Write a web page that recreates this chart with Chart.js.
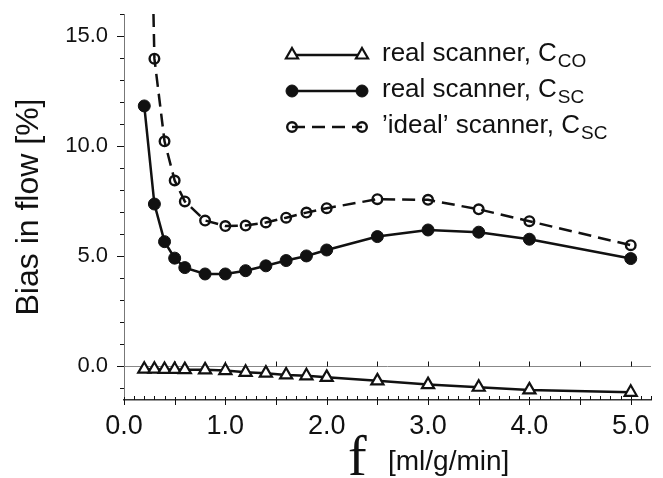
<!DOCTYPE html>
<html>
<head>
<meta charset="utf-8">
<script src="https://cdn.jsdelivr.net/npm/chart.js@4.4.1/dist/chart.umd.min.js"></script>
<style>
  html, body { margin: 0; padding: 0; background: #fff; }
  #wrap { width: 663px; height: 478px; }
</style>
</head>
<body>
<div id="wrap"><canvas id="biasChart" width="663" height="478"></canvas></div>
<script>
// flow f [ml/g/min] at which the bias was computed
const flowValues = [0.2, 0.3, 0.4, 0.5, 0.6, 0.8, 1.0, 1.2, 1.4, 1.6, 1.8, 2.0, 2.5, 3.0, 3.5, 4.0, 5.0];

// bias in flow [%]
const realCco = [-0.15, -0.15, -0.16, -0.16, -0.17, -0.18, -0.21, -0.29, -0.33, -0.41, -0.45, -0.52, -0.68, -0.85, -0.97, -1.09, -1.20];
const realCsc = [11.82, 7.36, 5.65, 4.90, 4.47, 4.18, 4.18, 4.33, 4.55, 4.79, 5.00, 5.27, 5.88, 6.18, 6.08, 5.76, 4.88];
const idealCsc = [36.0, 13.97, 10.21, 8.43, 7.48, 6.61, 6.36, 6.38, 6.52, 6.74, 6.97, 7.17, 7.58, 7.55, 7.12, 6.58, 5.49];

const seriesNames = ['real scanner, C', 'real scanner, C', '\u2019ideal\u2019 scanner, C'];
const seriesSubs = ['CO', 'SC', 'SC'];

const yTickLabels = [0, 5, 10, 15];
const xTickLabels = [0, 1, 2, 3, 4, 5];

const INK = '#111';
const SANS = '"Liberation Sans", Arial, Helvetica, sans-serif';

Chart.defaults.font.family = SANS;
Chart.defaults.color = INK;

function toPoints(ys) {
    return flowValues.map((x, i) => ({ x, y: ys[i] }));
}

// ticks of the original plot: inward minor ticks, zero line with its own ticks
const axisTicks = {
    id: 'axisTicks',
    beforeDatasetsDraw(chart) {
        const { ctx, chartArea, scales: { x, y } } = chart;
        const zeroY = Math.round(y.getPixelForValue(0)) + 0.5;
        ctx.save();
        ctx.strokeStyle = '#888';
        ctx.lineWidth = 1;
        ctx.beginPath();
        ctx.moveTo(chartArea.left, zeroY);
        ctx.lineTo(chartArea.right, zeroY);
        ctx.stroke();

        ctx.strokeStyle = INK;
        const bottom = chartArea.bottom;
        for (let i = 0; i <= 52; i++) {
            const px = Math.round(x.getPixelForValue(i / 10)) + 0.5;
            ctx.beginPath();
            if (i % 5 === 0) {
                ctx.moveTo(px, bottom - 3);
                ctx.lineTo(px, bottom + 5);
            } else {
                ctx.moveTo(px, bottom - 4);
                ctx.lineTo(px, bottom);
            }
            ctx.stroke();
            if (i % 5 === 0 && i > 0 && i <= 50) {
                ctx.beginPath();
                ctx.moveTo(px, zeroY);
                ctx.lineTo(px, zeroY - 5);
                ctx.stroke();
            }
        }
        for (let v = -1; v <= 16; v++) {
            const py = Math.round(y.getPixelForValue(v)) + 0.5;
            const len = v % 5 === 0 ? 7 : 4;
            ctx.beginPath();
            ctx.moveTo(chartArea.left - len, py);
            ctx.lineTo(chartArea.left, py);
            ctx.stroke();
        }
        ctx.restore();
    }
};

// legend drawn like the paper: line segment with a marker at both ends
const lineLegend = {
    id: 'lineLegend',
    afterDatasetsDraw(chart) {
        const { ctx } = chart;
        const x0 = 292, x1 = 362, textX = 382, rowTop = 55, rowGap = 36;
        ctx.save();
        chart.data.datasets.forEach((ds, i) => {
            const ry = rowTop + i * rowGap;
            ctx.strokeStyle = ds.borderColor;
            ctx.lineWidth = ds.borderWidth;
            ctx.setLineDash(ds.borderDash || []);
            ctx.beginPath();
            ctx.moveTo(x0, ry);
            ctx.lineTo(x1, ry);
            ctx.stroke();
            ctx.setLineDash([]);
            ctx.fillStyle = ds.pointBackgroundColor;
            ctx.strokeStyle = ds.pointBorderColor;
            ctx.lineWidth = ds.pointBorderWidth;
            const pt = { pointStyle: ds.pointStyle, radius: ds.pointRadius, borderWidth: ds.pointBorderWidth, rotation: 0 };
            Chart.helpers.drawPoint(ctx, pt, x0, ry);
            Chart.helpers.drawPoint(ctx, pt, x1, ry);

            ctx.fillStyle = INK;
            ctx.textBaseline = 'alphabetic';
            ctx.textAlign = 'left';
            ctx.font = '26px ' + SANS;
            ctx.fillText(seriesNames[i], textX, ry + 6);
            const w = ctx.measureText(seriesNames[i]).width;
            ctx.font = '19px ' + SANS;
            ctx.fillText(seriesSubs[i], textX + w + 1, ry + 12);
        });
        ctx.restore();
    }
};

// x axis title: serif "f" followed by the unit
const xTitle = {
    id: 'xTitle',
    afterDraw(chart) {
        const { ctx } = chart;
        ctx.save();
        ctx.fillStyle = INK;
        ctx.textBaseline = 'alphabetic';
        ctx.textAlign = 'left';
        ctx.font = '56px "Liberation Serif", "Times New Roman", serif';
        ctx.fillText('f', 348, 475);
        ctx.font = '28px ' + SANS;
        ctx.fillText('[ml/g/min]', 388, 470);
        ctx.restore();
    }
};

new Chart(document.getElementById('biasChart'), {
    type: 'scatter',
    data: {
        datasets: [
            {
                label: seriesNames[0] + seriesSubs[0],
                data: toPoints(realCco),
                showLine: true,
                borderColor: INK, borderWidth: 2.5,
                pointStyle: 'triangle', pointRadius: 7, pointBorderWidth: 2.2,
                pointBackgroundColor: '#fff', pointBorderColor: INK
            },
            {
                label: seriesNames[1] + seriesSubs[1],
                data: toPoints(realCsc),
                showLine: true,
                borderColor: INK, borderWidth: 2.5,
                pointStyle: 'circle', pointRadius: 6, pointBorderWidth: 1,
                pointBackgroundColor: INK, pointBorderColor: INK
            },
            {
                label: seriesNames[2] + seriesSubs[2],
                data: toPoints(idealCsc),
                showLine: true,
                borderColor: INK, borderWidth: 2.5, borderDash: [13, 7],
                pointStyle: 'circle', pointRadius: 4.8, pointBorderWidth: 2.4,
                pointBackgroundColor: 'rgba(0,0,0,0)', pointBorderColor: INK
            }
        ]
    },
    options: {
        responsive: false,
        animation: false,
        events: [],
        layout: { padding: { top: 14, right: 12, left: 0, bottom: 0 } },
        plugins: { legend: { display: false }, tooltip: { enabled: false } },
        scales: {
            x: {
                type: 'linear', min: 0, max: 5.2,
                grid: { display: false, drawTicks: false },
                border: { display: true, color: '#333', width: 1.5 },
                ticks: {
                    stepSize: 0.5, includeBounds: false, autoSkip: false, maxRotation: 0, padding: 10,
                    color: INK, font: { size: 27 },
                    callback: v => xTickLabels.some(t => Math.abs(t - v) < 1e-6) ? v.toFixed(1) : ''
                },
                afterFit: s => { s.height = 78; s.paddingLeft = 0; s.paddingRight = 0; }
            },
            y: {
                min: -1.55, max: 16,
                grid: { display: false, drawTicks: false },
                border: { display: true, color: '#777', width: 1 },
                ticks: {
                    stepSize: 1, includeBounds: false, autoSkip: false, padding: 16,
                    color: INK, font: { size: 22 },
                    callback: v => yTickLabels.some(t => Math.abs(t - v) < 1e-6) ? v.toFixed(1) : ''
                },
                title: {
                    display: true, text: 'Bias in flow [%]', color: INK,
                    font: { size: 32 }, padding: { top: 10, bottom: 0 }
                },
                afterFit: s => { s.width = 124; s.paddingTop = 0; s.paddingBottom = 0; }
            }
        }
    },
    plugins: [axisTicks, lineLegend, xTitle]
});
</script>
</body>
</html>
